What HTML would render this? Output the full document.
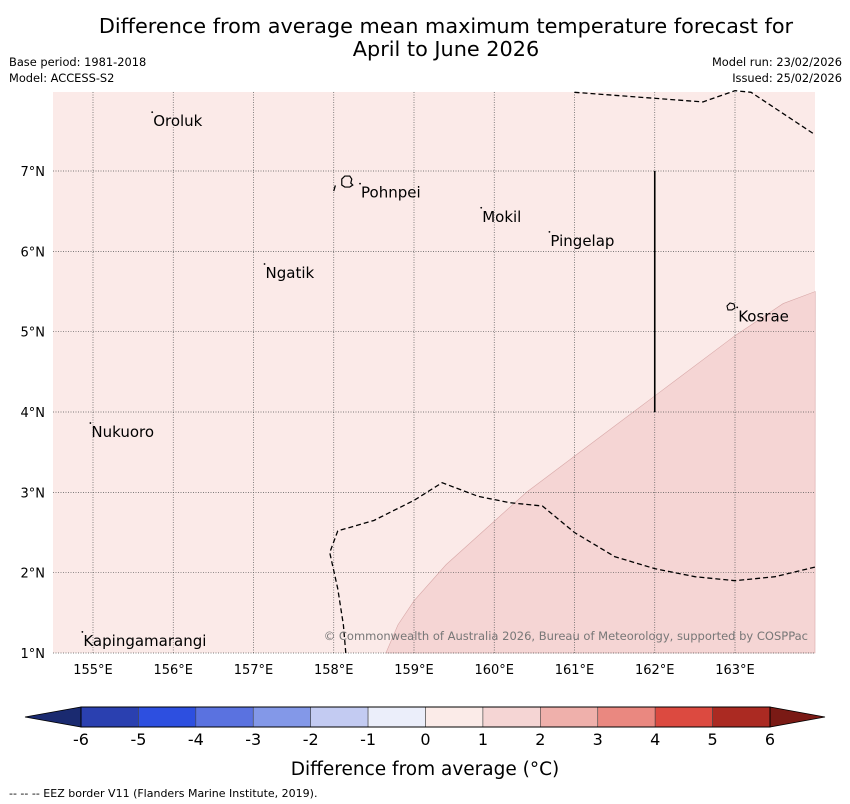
<!DOCTYPE html>
<html><head><meta charset="utf-8"><style>
body{margin:0;background:#fff;font-family:"Liberation Sans","DejaVu Sans",sans-serif}
#root{position:relative;width:850px;height:804px;overflow:hidden}
</style></head><body>
<div id="root">
<svg id="svg" width="850" height="804" xmlns="http://www.w3.org/2000/svg" font-family="DejaVu Sans, Liberation Sans, sans-serif">
<text x="446" y="33" font-size="20.8" text-anchor="middle">Difference from average mean maximum temperature forecast for</text>
<text x="446" y="56" font-size="20.8" text-anchor="middle">April to June 2026</text>
<text x="9" y="66" font-size="11.4">Base period: 1981-2018</text>
<text x="9" y="82" font-size="11.4">Model: ACCESS-S2</text>
<text x="842" y="66" font-size="11.4" text-anchor="end">Model run: 23/02/2026</text>
<text x="842" y="82" font-size="11.4" text-anchor="end">Issued: 25/02/2026</text>
<g id="map"></g>
<g id="cbar"></g>
<text x="425" y="775" font-size="18.5" text-anchor="middle">Difference from average (°C)</text>
<text x="9" y="797" font-size="11">--  --  -- EEZ border V11 (Flanders Marine Institute, 2019).</text>
</svg>
</div>
<script>
const lonTicks=[155,156,157,158,159,160,161,162,163];
const latTicks=[1,2,3,4,5,6,7];
const cbLevels=[-6,-5,-4,-3,-2,-1,0,1,2,3,4,5,6];
const cbColors=["#2a40b0","#2d4fe0","#5a72e0","#8398e8","#c3cbf2","#ebeefa","#fbebe8","#f5d5d4","#efb0ab","#ea8880","#dc4a40","#ab2a22"];
const placeNames=["Oroluk","Pohnpei","Mokil","Pingelap","Ngatik","Kosrae","Nukuoro","Kapingamarangi"];
const placeLon=[155.75,158.34,159.85,160.7,157.15,163.04,154.98,154.88];
const placeLat=[7.72,6.83,6.53,6.23,5.83,5.29,3.85,1.25];
const anomalyEdgeLon=[158.65,158.8,159.0,159.4,159.9,160.4,161.2,162.0,163.0,163.6,164.0];
const anomalyEdgeLat=[1.0,1.35,1.65,2.1,2.55,3.0,3.6,4.2,4.95,5.35,5.5];
const eezLowLon=[158.15,158.12,158.05,157.95,158.05,158.5,159.0,159.35,159.8,160.2,160.6,161.0,161.5,162.0,162.5,163.0,163.5,164.0];
const eezLowLat=[1.0,1.35,1.8,2.25,2.52,2.65,2.9,3.12,2.95,2.87,2.83,2.5,2.2,2.05,1.95,1.9,1.95,2.07];
const eezTopLon=[161.0,162.6,163.0,163.2,164.0];
const eezTopLat=[7.98,7.86,8.0,7.98,7.45];
const X=lon=>93+(lon-155)*80.25, Y=lat=>653-(lat-1)*80.33;
const L=53,R=815,T=92,B=653;
const NS="http://www.w3.org/2000/svg";
function mk(tag,attrs,parent,txt){const e=document.createElementNS(NS,tag);for(const k in attrs)e.setAttribute(k,attrs[k]);if(txt!==undefined)e.textContent=txt;parent.appendChild(e);return e;}
const map=document.getElementById('map');
let e=mk('rect',{x:L,y:T,width:R-L,height:B-T,fill:'#fbeae8'},map);


let pts=anomalyEdgeLon.map((v,i)=>X(v)+','+Y(anomalyEdgeLat[i])).join(' ')+' '+R+','+B;
e=mk('polygon',{points:pts,fill:'#f5d5d4',stroke:'#d8a8a8','stroke-width':0.6},map);


lonTicks.forEach(v=>{
 let g=mk('line',{x1:X(v),x2:X(v),y1:T,y2:B,stroke:'#555','stroke-width':0.7,'stroke-dasharray':'1,1.5'},map);
 
 
 let t=mk('text',{x:X(v),y:674,'font-size':13,'text-anchor':'middle'},map,v+'°E');
 
 
});
latTicks.forEach(v=>{
 let g=mk('line',{x1:L,x2:R,y1:Y(v),y2:Y(v),stroke:'#555','stroke-width':0.7,'stroke-dasharray':'1,1.5'},map);
 
 
 let t=mk('text',{x:45,y:Y(v)+5,'font-size':13,'text-anchor':'end'},map,v+'°N');
 
 
});
e=mk('polyline',{points:eezLowLon.map((v,i)=>X(v)+','+Y(eezLowLat[i])).join(' '),fill:'none',stroke:'#000','stroke-width':1.3,'stroke-dasharray':'5,3'},map);


e=mk('polyline',{points:eezTopLon.map((v,i)=>X(v)+','+Y(eezTopLat[i])).join(' '),fill:'none',stroke:'#000','stroke-width':1.3,'stroke-dasharray':'5,3'},map);


e=mk('line',{x1:X(158),y1:Y(6.75),x2:X(158.02),y2:Y(6.82),stroke:'#000','stroke-width':1.3},map);


e=mk('line',{x1:X(162),y1:Y(7),x2:X(162),y2:Y(4),stroke:'#000','stroke-width':1.6},map);


e=mk('path',{d:`M${X(158.1)},${Y(6.9)} l3,-3 5,0 2,3 -1,4 2,2 -3,2 -5,0 -3,-2 z`,fill:'none',stroke:'#000','stroke-width':1.2},map);


e=mk('path',{d:`M${X(162.9)},${Y(5.32)} l3,-3 4,1 1,4 -3,2 -4,0 z`,fill:'none',stroke:'#000','stroke-width':1.1},map);


placeNames.forEach((n,i)=>{
 let d=mk('circle',{cx:X(placeLon[i])-1,cy:Y(placeLat[i])-1,r:0.9,fill:'#000'},map);
 
 
 let t=mk('text',{x:X(placeLon[i]),y:Y(placeLat[i])+13,'font-size':15},map,n);
 
 
});
e=mk('text',{x:808,y:640,'font-size':11.5,'text-anchor':'end',fill:'#777'},map,'© Commonwealth of Australia 2026, Bureau of Meteorology, supported by COSPPac');


const cb=document.getElementById('cbar');
const CX=v=>81+(v+6)*(770-81)/12, cT=707, cB=727;
e=mk('polygon',{points:`25,717 ${CX(-6)},${cT} ${CX(-6)},${cB}`,fill:'#1a2a70',stroke:'#000','stroke-width':0.8},cb);


e=mk('polygon',{points:`825,717 ${CX(6)},${cT} ${CX(6)},${cB}`,fill:'#7a1a15',stroke:'#000','stroke-width':0.8},cb);


cbColors.forEach((c,i)=>{
 let r=mk('rect',{x:CX(cbLevels[i]),y:cT,width:CX(cbLevels[i+1])-CX(cbLevels[i]),height:cB-cT,fill:c,stroke:'#444','stroke-width':0.6},cb);
 
 
});
e=mk('rect',{x:CX(-6),y:cT,width:CX(6)-CX(-6),height:cB-cT,fill:'none',stroke:'#000','stroke-width':1},cb);


cbLevels.forEach(v=>{
 let t=mk('text',{x:CX(v),y:745,'font-size':16,'text-anchor':'middle'},cb,String(v));
 
 
});
</script>
</body></html>
